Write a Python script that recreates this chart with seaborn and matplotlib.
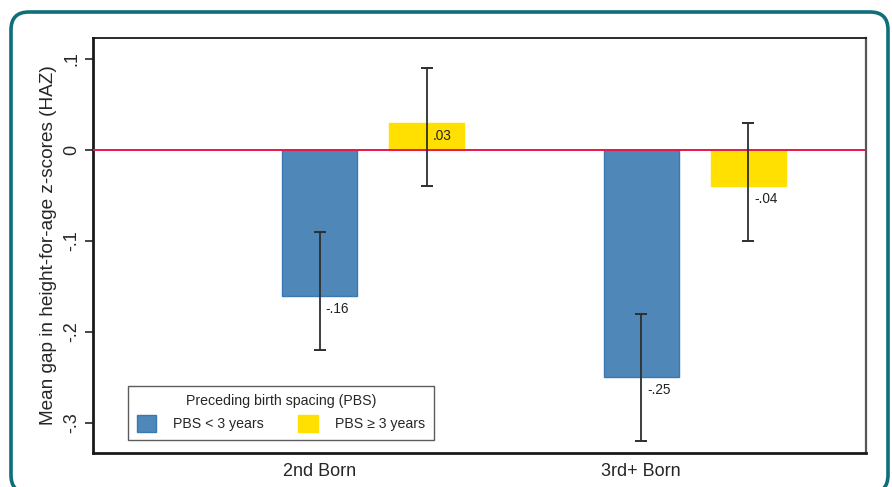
import matplotlib
matplotlib.use("Agg")
import matplotlib.pyplot as plt
from matplotlib.patches import FancyBboxPatch, Patch
import numpy as np
import pandas as pd
import seaborn as sns

# Data
birth_order = ["2nd Born", "3rd+ Born"]
spacing = ["PBS < 3 years", "PBS \u2265 3 years"]
mean_short = [-0.16, -0.25]
mean_long = [0.03, -0.04]
ci_low_short = [-0.22, -0.32]
ci_high_short = [-0.09, -0.18]
ci_low_long = [-0.04, -0.10]
ci_high_long = [0.09, 0.03]
y_ticks = [0.1, 0.0, -0.1, -0.2, -0.3]

colors = ["#4F87B8", "#FFE000"]
edge_colors = ["#3A78B5", "#FFE000"]

df = pd.DataFrame({
    "order": birth_order * 2,
    "spacing": [spacing[0]] * 2 + [spacing[1]] * 2,
    "gap": mean_short + mean_long,
    "lo": ci_low_short + ci_low_long,
    "hi": ci_high_short + ci_high_long,
})


def stata_fmt(v):
    s = f"{v:.2f}".rstrip("0") if abs(v) >= 1e-9 else "0"
    s = s.replace("0.", ".")
    if s.endswith("."):
        s = s[:-1]
    return s


sns.set_style("white")
plt.rcParams["font.family"] = ["Liberation Sans", "DejaVu Sans"]

fig = plt.figure(figsize=(8.92, 4.87), dpi=100)
fig.patch.set_facecolor("white")

# Rounded frame around the figure
frame = FancyBboxPatch((11 / 892, -6 / 487), (888 - 11) / 892, (487 + 6 - 12) / 487,
                       boxstyle="round,pad=0,rounding_size=0.020",
                       transform=fig.transFigure, facecolor="none",
                       edgecolor="#0E6F78", linewidth=2.6, mutation_aspect=892 / 487,
                       clip_on=False)
fig.patches.append(frame)

ax = fig.add_axes([93 / 892, 1 - 453 / 487, (866 - 93) / 892, (453 - 38) / 487])

width = 0.666
sns.barplot(data=df, x="order", y="gap", hue="spacing", hue_order=spacing,
            order=birth_order, palette=colors, width=width, gap=0.3,
            errorbar=None, saturation=1, legend=False, ax=ax, zorder=2)

bar_containers = list(ax.containers)

# Per-bar error bars and value labels
for hi_idx, container in enumerate(bar_containers):
    sub = df[df["spacing"] == spacing[hi_idx]].set_index("order").loc[birth_order]
    for bar, (_, row) in zip(container.patches, sub.iterrows()):
        bar.set_edgecolor(edge_colors[hi_idx])
        bar.set_linewidth(1.0)
        xc = bar.get_x() + bar.get_width() / 2
        ax.errorbar(xc, row["gap"], yerr=[[row["gap"] - row["lo"]], [row["hi"] - row["gap"]]],
                    fmt="none", ecolor="#2e2e2e", elinewidth=1.3, capsize=4,
                    capthick=1.4, zorder=4)
        ax.annotate(stata_fmt(row["gap"]), xy=(xc, row["gap"]), xytext=(6, -13),
                    textcoords="offset pixels", ha="left", va="center",
                    fontsize=9.8, color="#222222", zorder=5)

# Zero reference line
ax.axhline(0, color="#E8174A", linewidth=1.4, zorder=3)

ax.set_ylim(-0.333, 0.123)
ax.set_xlim(-0.871, 1.533)
ax.set_yticks(y_ticks)
ax.set_yticklabels([stata_fmt(v) for v in y_ticks], rotation=90, va="center", fontsize=13)

# Category labels sit under the first bar of each group
first_centers = [p.get_x() + p.get_width() / 2 for p in bar_containers[0].patches]
ax.set_xticks(first_centers)
ax.set_xticklabels(birth_order, fontsize=13)
ax.tick_params(axis="x", length=0, pad=7)
ax.tick_params(axis="y", length=6, width=1.2, direction="out", pad=3, left=True)
ax.set_xlabel("")
ax.set_ylabel("Mean gap in height-for-age z-scores (HAZ)", fontsize=13.7, labelpad=5)

for side in ["left", "bottom"]:
    ax.spines[side].set_color("#1a1a1a")
    ax.spines[side].set_linewidth(2.0)
ax.spines["top"].set_color("#1a1a1a")
ax.spines["top"].set_linewidth(1.3)
ax.spines["right"].set_color("#555555")
ax.spines["right"].set_linewidth(1.6)
for s in ax.spines.values():
    s.set_visible(True)

handles = [Patch(facecolor=colors[i], edgecolor=edge_colors[i], label=spacing[i]) for i in range(2)]
leg = ax.legend(handles=handles, title="Preceding birth spacing (PBS)", ncol=2,
                loc="lower left", bbox_to_anchor=(35 / 773, 13 / 415), borderaxespad=0,
                fontsize=10.2, title_fontsize=10.2, frameon=True, fancybox=False,
                edgecolor="#333333", handlelength=1.4, handleheight=1.4,
                columnspacing=2.4, handletextpad=1.2, borderpad=0.6)
leg.get_frame().set_linewidth(1.0)

fig.savefig("out.png", dpi=100, facecolor="white")
